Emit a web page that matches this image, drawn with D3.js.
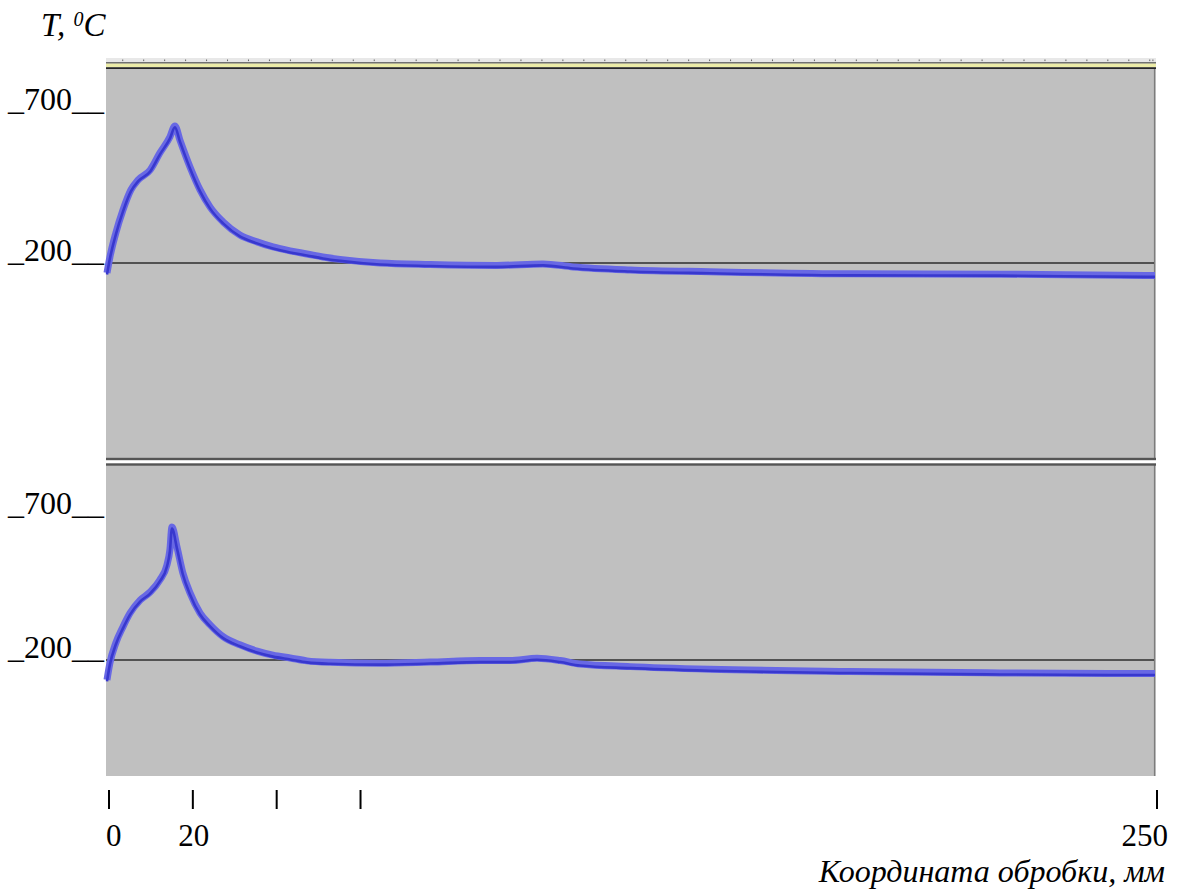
<!DOCTYPE html>
<html>
<head>
<meta charset="utf-8">
<script src="https://cdn.jsdelivr.net/npm/d3@7/dist/d3.min.js"></script>
<style>
  body { margin: 0; background: white; }
  text { font-family: "Liberation Serif", "Times New Roman", serif; fill: black; }
</style>
</head>
<body>
<svg id="chart" width="1182" height="893"></svg>
<script>
const WIDTH = 1182;
const HEIGHT = 893;
const PLOT_LEFT = 106;
const PLOT_RIGHT = 1156;

// coordinate along the treated part, mm
const topX = [0, 0.7, 2.1, 3.8, 5.7, 7.4, 10.3, 12.6, 15.0, 16.2, 17.4, 19.8, 22.2, 24.6, 27.7, 31.7,
  35.8, 39.6, 43.7, 47.7, 51.5, 55.6, 65.1, 77.1, 93.0, 104.0, 111.2, 124.8, 143.8, 177.2, 213.0, 248.8, 250];
// temperature, deg C (upper channel)
const topT = [167, 220, 299, 375, 442, 475, 508, 564, 617, 654, 607, 518, 442, 385, 336, 293,
  270, 253, 240, 230, 220, 212, 200, 195, 192, 197, 187, 177, 171, 164, 163, 159, 159];

const bottomX = [0, 0.7, 2.1, 3.8, 5.5, 7.9, 10.3, 12.6, 14.3, 15.0, 15.5, 16.7, 18.1, 19.8, 22.2, 24.6,
  27.7, 31.7, 35.8, 39.6, 43.7, 47.7, 53.2, 65.1, 77.1, 89.0, 96.1, 102.6, 108.1, 112.8, 124.8, 143.8,
  177.2, 213.0, 248.8, 250];
// temperature, deg C (lower channel)
const bottomT = [131, 190, 259, 315, 363, 408, 436, 478, 530, 582, 662, 592, 502, 433, 363, 322,
  281, 253, 231, 217, 207, 197, 192, 189, 193, 198, 198, 206, 198, 186, 177, 168,
  160, 155, 153, 153];

const yTickValues = [700, 200];
const xTickValues = [0, 20, 40, 60, 250];
const xTickLabels = ['0', '20', '', '', '250'];

const svg = d3.select('#chart');

const xScale = d3.scaleLinear().domain([0, 250]).range([107, 1155]);

const panels = [
  { top: 69, bottom: 459, y: d3.scaleLinear().domain([200, 700]).range([263, 112]), xs: topX, ts: topT },
  { top: 465, bottom: 776, y: d3.scaleLinear().domain([200, 700]).range([660, 516]), xs: bottomX, ts: bottomT }
];

drawHeaderStrip();
panels.forEach(drawPanel);
drawDivider();
drawXAxis();
drawTitles();

function drawHeaderStrip() {
  svg.append('rect')
    .attr('x', PLOT_LEFT).attr('y', 58)
    .attr('width', PLOT_RIGHT - PLOT_LEFT).attr('height', 4.5)
    .attr('fill', '#e8e8e8');
  svg.selectAll('.rulerTick')
    .data(d3.range(3.75, 250, 5).concat([249.5]))
    .enter()
    .append('rect')
    .attr('class', 'rulerTick')
    .attr('x', d => xScale(d) - 0.5)
    .attr('y', 59.5)
    .attr('width', 1)
    .attr('height', 1.6)
    .attr('fill', '#666');
  svg.append('rect')
    .attr('x', PLOT_LEFT).attr('y', 62.3)
    .attr('width', PLOT_RIGHT - PLOT_LEFT).attr('height', 1.3)
    .attr('fill', '#3a3a3a');
  svg.append('rect')
    .attr('x', PLOT_LEFT).attr('y', 63.6)
    .attr('width', PLOT_RIGHT - PLOT_LEFT).attr('height', 3.4)
    .attr('fill', '#ececa8');
  svg.append('rect')
    .attr('x', PLOT_LEFT).attr('y', 67.2)
    .attr('width', PLOT_RIGHT - PLOT_LEFT).attr('height', 1.8)
    .attr('fill', '#262626');
}

function drawPanel(p) {
  const g = svg.append('g').attr('class', 'panel');
  g.append('rect')
    .attr('x', PLOT_LEFT).attr('y', p.top)
    .attr('width', PLOT_RIGHT - PLOT_LEFT).attr('height', p.bottom - p.top)
    .attr('fill', '#c0c0c0');
  g.append('line')
    .attr('x1', PLOT_RIGHT - 1.5).attr('x2', PLOT_RIGHT - 1.5)
    .attr('y1', p.top).attr('y2', p.bottom)
    .attr('stroke', '#7c7c7c').attr('stroke-width', 1.2);

  // reference line at 200
  g.append('line')
    .attr('x1', PLOT_LEFT).attr('x2', PLOT_RIGHT - 2)
    .attr('y1', p.y(200)).attr('y2', p.y(200))
    .attr('stroke', '#2e2e2e').attr('stroke-width', 1.3);

  const pts = p.xs.map((x, i) => [x, p.ts[i]]);
  const line = d3.line()
    .x(d => xScale(d[0]))
    .y(d => p.y(d[1]))
    .curve(d3.curveMonotoneX);

  g.append('path')
    .datum(pts)
    .attr('d', line)
    .attr('fill', 'none')
    .attr('stroke', 'rgb(104, 104, 228)')
    .attr('stroke-width', 7)
    .attr('stroke-linejoin', 'round');
  g.append('path')
    .datum(pts)
    .attr('d', line)
    .attr('transform', 'translate(0,1.5)')
    .attr('fill', 'none')
    .attr('stroke', 'rgb(56, 56, 206)')
    .attr('stroke-width', 2.6)
    .attr('stroke-linejoin', 'round');

  g.selectAll('.yLabel')
    .data(yTickValues)
    .enter()
    .append('text')
    .attr('class', 'yLabel')
    .attr('x', 8)
    .attr('y', d => p.y(d) - 2)
    .attr('font-size', '32px')
    .text(d => '_' + d + '__');
}

function drawDivider() {
  [459, 464.5].forEach(function(y) {
    svg.append('rect')
      .attr('x', PLOT_LEFT).attr('y', y - 1.2)
      .attr('width', PLOT_RIGHT - PLOT_LEFT).attr('height', 2.4)
      .attr('fill', '#555');
  });
}

function drawXAxis() {
  svg.selectAll('.xTick')
    .data(xTickValues)
    .enter()
    .append('line')
    .attr('class', 'xTick')
    .attr('x1', d => xScale(d) + 2).attr('x2', d => xScale(d) + 2)
    .attr('y1', 790).attr('y2', 809)
    .attr('stroke', 'black').attr('stroke-width', 2);

  svg.selectAll('.xLabel')
    .data(xTickValues)
    .enter()
    .append('text')
    .attr('class', 'xLabel')
    .attr('x', function(d, i) {
      if (i === 0) return xScale(d) - 1;
      if (i === xTickValues.length - 1) return xScale(d) + 13;
      return xScale(d) + 3;
    })
    .attr('y', 846)
    .attr('font-size', '31px')
    .attr('text-anchor', function(d, i) {
      if (i === 0) return 'start';
      if (i === xTickValues.length - 1) return 'end';
      return 'middle';
    })
    .text((d, i) => xTickLabels[i]);
}

function drawTitles() {
  const yTitle = svg.append('text')
    .attr('x', 41)
    .attr('y', 35.5)
    .attr('font-size', '33px')
    .attr('font-style', 'italic');
  yTitle.append('tspan').text('T, ');
  yTitle.append('tspan').attr('font-size', '20px').attr('dy', -10).text('0');
  yTitle.append('tspan').attr('dy', 10).text('C');

  svg.append('text')
    .attr('x', 1165)
    .attr('y', 882)
    .attr('font-size', '32px')
    .attr('font-style', 'italic')
    .attr('text-anchor', 'end')
    .text('Координата обробки, мм');
}
</script>
</body>
</html>
